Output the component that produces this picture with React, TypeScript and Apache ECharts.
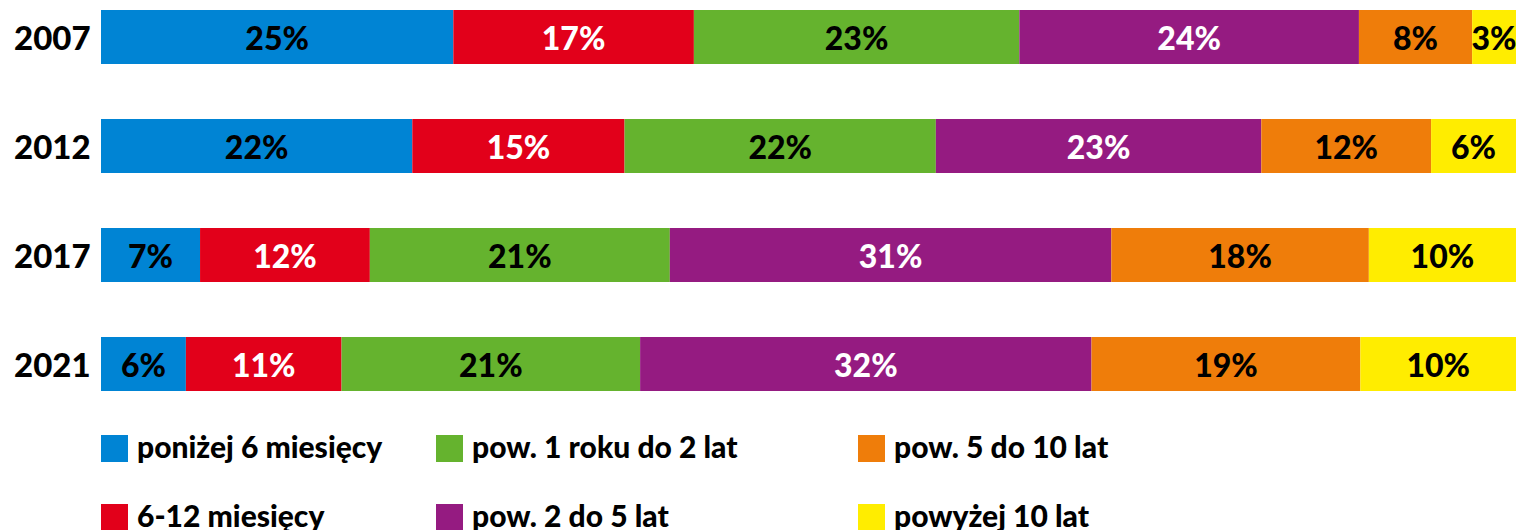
import React, { useEffect, useRef } from "react";
import * as echarts from "echarts";

const years = ["2007", "2012", "2017", "2021"];
const seriesNames = [
  "poniżej 6 miesięcy",
  "6-12 miesięcy",
  "pow. 1 roku do 2 lat",
  "pow. 2 do 5 lat",
  "pow. 5 do 10 lat",
  "powyżej 10 lat",
];
// bar shares (share of total)
const below6m = [24.9, 22.0, 7.0, 6.0];
const m6to12 = [17.0, 15.0, 12.0, 11.0];
const y1to2 = [23.0, 22.0, 21.2, 21.1];
const y2to5 = [24.0, 23.0, 31.2, 31.9];
const y5to10 = [8.0, 12.0, 18.2, 19.0];
const over10 = [3.1, 6.0, 10.4, 11.0];
// printed percentages
const below6mLabel = [25, 22, 7, 6];
const m6to12Label = [17, 15, 12, 11];
const y1to2Label = [23, 22, 21, 21];
const y2to5Label = [24, 23, 31, 32];
const y5to10Label = [8, 12, 18, 19];
const over10Label = [3, 6, 10, 10];

const values = [below6m, m6to12, y1to2, y2to5, y5to10, over10];
const labels = [below6mLabel, m6to12Label, y1to2Label, y2to5Label, y5to10Label, over10Label];
const colors = ["#0084D4", "#E2001A", "#65B32E", "#951B81", "#EF7D0A", "#FFED00"];
const labelColors = ["#000", "#fff", "#000", "#fff", "#000", "#000"];

const FONT = "Lato";

export default function App() {
  const ref = useRef<HTMLDivElement>(null);
  useEffect(() => {
    if (!ref.current) return;
    const chart = echarts.init(ref.current, null, { renderer: "svg" });
    const colX = [101, 436, 858];
    const rowY = [435, 504];
    const legendGraphics: any[] = [];
    seriesNames.forEach((name, i) => {
      const x = colX[Math.floor(i / 2)];
      const y = rowY[i % 2];
      legendGraphics.push({
        type: "group",
        x,
        y,
        children: [
          { type: "rect", shape: { x: 0, y: 0, width: 27, height: 27 }, style: { fill: colors[i] } },
          {
            type: "text",
            x: 36,
            y: 11,
            style: {
              text: name,
              fill: "#000",
              font: `900 30px ${FONT}`,
              verticalAlign: "middle",
              align: "left",
            },
          },
        ],
      });
    });
    chart.setOption({
      animation: false,
      grid: { left: 101, right: 5, top: 37, height: 327, containLabel: false },
      xAxis: {
        type: "value",
        min: 0,
        max: 100,
        show: false,
      },
      yAxis: {
        type: "category",
        data: years,
        inverse: true,
        boundaryGap: false,
        axisLine: { show: false },
        axisTick: { show: false },
        splitLine: { show: false },
        axisLabel: {
          color: "#000",
          fontFamily: FONT,
          fontWeight: 900,
          fontSize: 33,
          align: "left",
          margin: 87,
        },
      },
      graphic: legendGraphics,
      series: values.map((v, i) => ({
        name: seriesNames[i],
        type: "bar",
        stack: "total",
        barWidth: 54,
        data: v,
        itemStyle: { color: colors[i] },
        label: {
          show: true,
          position: "inside",
          color: labelColors[i],
          fontFamily: FONT,
          fontWeight: 900,
          fontSize: 32,
          formatter: (p: any) => labels[i][p.dataIndex] + "%",
        },
      })),
    });
    return () => chart.dispose();
  }, []);
  return (
    <div
      ref={ref}
      style={{ position: "absolute", left: 0, top: 0, width: 1521, height: 620 }}
    />
  );
}
